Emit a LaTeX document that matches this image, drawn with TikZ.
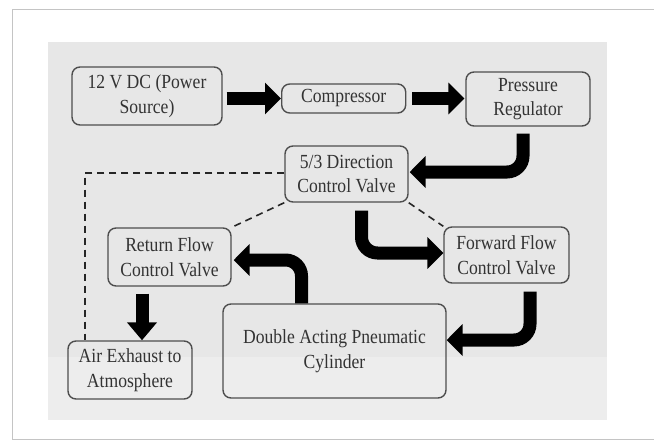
\documentclass[tikz,border=0pt]{standalone}
\usepackage{fontspec}
\setmainfont{Liberation Serif}[FakeStretch=0.88]
\usetikzlibrary{arrows.meta}
\definecolor{panelA}{HTML}{E7E7E7}
\definecolor{panelB}{HTML}{EDEDED}
\definecolor{framec}{HTML}{C4C4C4}
\definecolor{boxc}{HTML}{4E4E4E}
\definecolor{txtc}{HTML}{333333}
\begin{document}
\begin{tikzpicture}[x=1pt,y=-1pt,
  box/.style={draw=boxc, line width=1.4pt, rounded corners=8pt, align=center,
              text=txtc, font=\fontsize{20}{24.5}\selectfont, inner sep=0pt},
  blk/.style={draw=black, line width=13pt, rounded corners=16pt,
              -{Triangle[length=16pt,width=31pt]}},
  dsh/.style={draw=black!85, line width=1.6pt, dash pattern=on 7pt off 5pt}]
\useasboundingbox (0,0) rectangle (654,442);
\fill[white] (0,0) rectangle (654,442);
% outer frame
\draw[framec, line width=1.6pt] (654,9.5) -- (12.5,9.5) -- (12.5,439.5) -- (654,439.5);
% grey panel
\fill[panelA] (48,42) rectangle (607,357);
\fill[panelB] (48,357) rectangle (607,420);
% boxes
\node[box, minimum width=150pt, minimum height=58pt] (pwr)  at (147,96)    {12 V DC (Power\\Source)};
\node[box, minimum width=124pt, minimum height=29pt] (comp) at (343.7,98.5) {Compressor};
\node[box, minimum width=124pt, minimum height=54pt] (preg) at (528,99)    {Pressure\\Regulator};
\node[box, minimum width=123pt, minimum height=56pt] (dcv)  at (346.5,174) {5/3 Direction\\Control Valve};
\node[box, minimum width=123pt, minimum height=58pt] (rfv)  at (169.5,257) {Return Flow\\Control Valve};
\node[box, minimum width=125pt, minimum height=56pt] (ffv)  at (506.5,255) {Forward Flow\\Control Valve};
\node[box, minimum width=223pt, minimum height=94pt] (cyl)  at (334.5,351) {Double Acting Pneumatic\\Cylinder};
\node[box, minimum width=124pt, minimum height=58pt] (air)  at (130,370)   {Air Exhaust to\\Atmosphere};
% block arrows
\draw[blk, shorten <=4pt] (pwr.east |- comp.west) -- (comp.west);
\draw[blk, shorten <=6pt, shorten >=1pt] (comp.east) -- (preg.west |- comp.east);
\draw[blk, shorten <=7pt, shorten >=1pt] ([xshift=-5pt]preg.south) |- ([yshift=2pt]dcv.east);
\draw[blk, shorten <=8pt] ([xshift=15pt]dcv.south) |- ([yshift=2pt]ffv.west);
\draw[blk, shorten <=8pt] ([xshift=23.5pt]ffv.south) |- ([yshift=11pt]cyl.east);
\draw[blk, shorten >=2pt] ([xshift=-33pt]cyl.north) |- ([yshift=-3pt]rfv.east);
\draw[blk, shorten <=7pt, -{Triangle[length=18pt,width=29pt]}] ([xshift=-27.5pt]rfv.south) -- ([xshift=12pt]air.north);
% dashed control lines
\draw[dsh] ([yshift=1pt]dcv.west) -| ([xshift=-45pt]air.north);
\draw[dsh] (dcv.south west) -- (rfv.north east);
\draw[dsh] (dcv.south east) -- (ffv.north west);
\end{tikzpicture}
\end{document}
